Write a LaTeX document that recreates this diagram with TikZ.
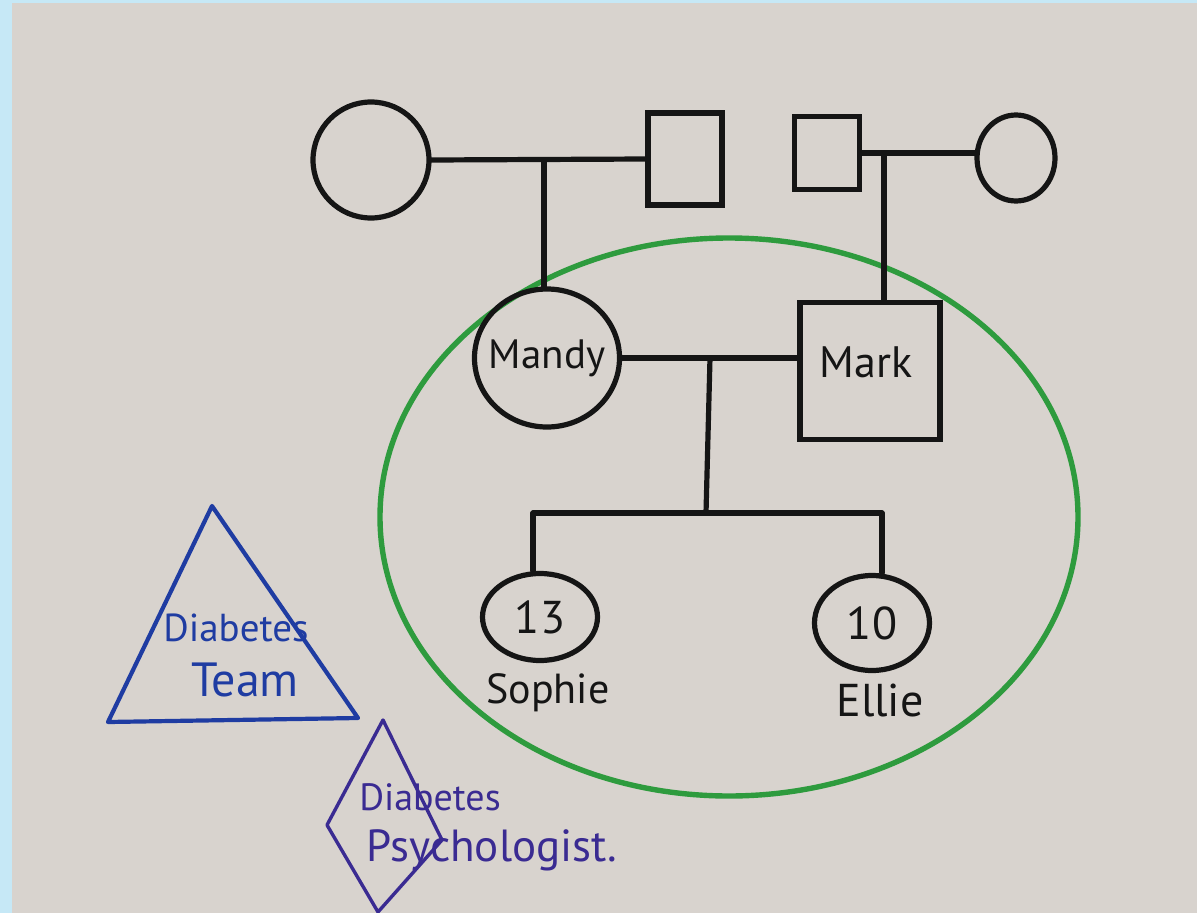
\documentclass[tikz,border=0pt]{standalone}
\usepackage{fontspec}
\setmainfont{PT Sans}
\usetikzlibrary{shapes.geometric}
\definecolor{frame}{HTML}{C6E8F6}
\definecolor{paper}{HTML}{D8D3CE}
\definecolor{ink}{HTML}{151515}
\definecolor{gink}{HTML}{2E9B3E}
\definecolor{bink}{HTML}{1F3CA2}
\definecolor{vink}{HTML}{3A2B92}
\tikzset{
  line/.style={draw=ink, line width=5.2pt, line cap=round, line join=round},
  female/.style={ellipse, draw=ink, line width=5.2pt, inner sep=0pt},
  male/.style={rectangle, draw=ink, line width=5.2pt, inner sep=0pt},
  hand/.style={text=ink, inner sep=0pt},
  bluetext/.style={text=bink, inner sep=0pt},
  violettext/.style={text=vink, inner sep=0pt},
}
\newcommand{\fsz}[1]{\fontsize{#1}{#1}\selectfont}
\begin{document}
\begin{tikzpicture}[x=1pt,y=-1pt]
\fill[frame] (0,0) rectangle (1197,913);
\fill[paper] (12,3) rectangle (1197,913);
\useasboundingbox (0,0) rectangle (1197,913);

% household circle
\node[ellipse, draw=gink, line width=5.4pt, minimum width=698pt, minimum height=558pt] (household) at (729,517) {};

% grandparents
\node[female, minimum width=116pt, minimum height=116pt] (gmL) at (371,160) {};
\node[male, minimum width=74pt, minimum height=92pt] (gfL) at (685,159) {};
\node[male, minimum width=65pt, minimum height=73pt] (gfR) at (827,153) {};
\node[female, minimum width=78pt, minimum height=86pt] (gmR) at (1016,158) {};

% parents
\node[female, minimum width=145pt, minimum height=138pt] (mandy) at (547,358) {};
\node[hand, font=\fsz{41}] (mandyT) at (mandy.center) {Mandy};
\node[male, minimum width=140pt, minimum height=137pt] (mark) at (870,371) {};
\node[hand, font=\fsz{44}] (markT) at (866,362) {Mark};

% children
\node[female, minimum width=115pt, minimum height=87pt] (sophie) at (540,617) {};
\node[hand, font=\fsz{46}] (sophieN) at (sophie.center) {13};
\node[hand, font=\fsz{42}] (sophieT) at (548,693) {Sophie};
\node[female, minimum width=115pt, minimum height=95pt] (ellie) at (872,623) {};
\node[hand, font=\fsz{46}] (ellieN) at (ellie.center) {10};
\node[hand, font=\fsz{46}] (ellieT) at (880,700) {Ellie};

% connectors
\coordinate (cL) at (544,160);
\coordinate (cR) at (884,155);
\coordinate (cM) at (710,358);
\coordinate (kids) at (706,513);
\coordinate (kL) at (533,513);
\coordinate (kR) at (882,513);
\draw[line] (gmL.east) -- (gfL.west);
\draw[line] (cL) -- (cL |- mandy.north);
\draw[line] (gfR.east) -- (gfR.east -| gmR.west);
\draw[line] (cR) -- (cR |- mark.north);
\draw[line] (mandy.east) -- (mandy.east -| mark.west);
\draw[line] (cM) -- (kids);
\draw[line] (kL) -- (kR);
\draw[line] (kL) -- (kL |- sophie.north);
\draw[line] (kR) -- (kR |- ellie.north);

% diabetes team triangle
\coordinate (t1) at (212,506);
\coordinate (t2) at (108,722);
\coordinate (t3) at (358,718);
\draw[draw=bink, line width=4.2pt, line join=round] (t1) -- (t2) -- (t3) -- cycle;
\node[bluetext, font=\fsz{39}] (teamA) at (236,628) {Diabetes};
\node[bluetext, font=\fsz{48}] (teamB) at (245,680) {Team};

% diabetes psychologist diamond
\coordinate (d1) at (383,720);
\coordinate (d2) at (442,840);
\coordinate (d3) at (378,912);
\coordinate (d4) at (327,825);
\draw[draw=vink, line width=3.4pt, line join=round] (d1) -- (d2) -- (d3) -- (d4) -- cycle;
\node[violettext, font=\fsz{38}] (psyA) at (430,797) {Diabetes};
\node[violettext, font=\fsz{45}] (psyB) at (492,850) {Psychologist.};
\end{tikzpicture}
\end{document}
